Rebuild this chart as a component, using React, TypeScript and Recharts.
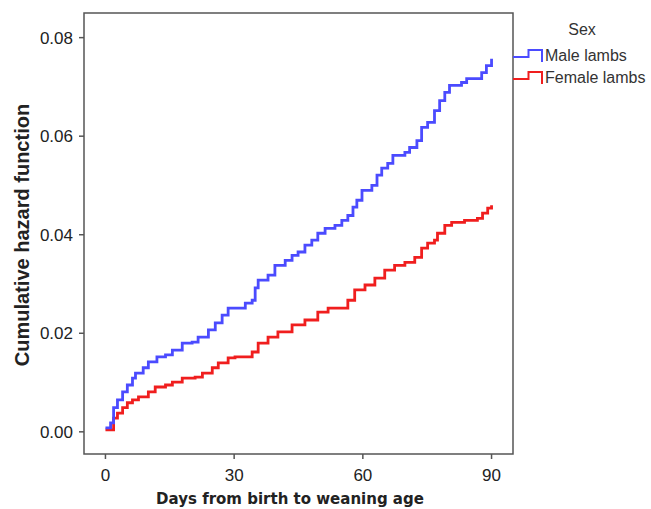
import { LineChart, Line, XAxis, YAxis, ReferenceArea } from 'recharts';

// Male lambs (blue) – cumulative hazard
const maleDays = [
    0, 1.2, 1.9, 2.8, 4.0, 5.1, 6.3, 7.0, 8.8, 10, 12, 14, 15.6, 17.9, 20.2, 21.6, 24, 25.6, 27.2, 28.6,
    32.6, 34.2, 34.9, 35.6, 37.9, 39.5, 41.9, 43.5, 44.9, 46.5, 48.1, 49.5, 51.2, 53.5, 55.1, 56.5, 57.7,
    58.6, 59.8, 62.1, 63.3, 64.4, 65.8, 67, 69.8, 70.9, 72.6, 73.7, 75.1, 76.7, 77.9, 79.1, 80.2, 83, 84.2,
    86.7, 87.7, 88.8, 90,
];
const maleHazard = [
    0.0008, 0.0018, 0.0049, 0.0065, 0.0081, 0.0095, 0.0109, 0.0119, 0.013, 0.0142, 0.0152, 0.0156, 0.0166,
    0.018, 0.0182, 0.0192, 0.0207, 0.0221, 0.0237, 0.0251, 0.0261, 0.0267, 0.0292, 0.0308, 0.0318, 0.0338,
    0.0348, 0.0358, 0.0365, 0.0379, 0.0389, 0.0403, 0.0413, 0.0419, 0.0429, 0.0439, 0.0456, 0.047, 0.049,
    0.05, 0.0521, 0.0535, 0.0545, 0.0561, 0.0567, 0.0577, 0.0591, 0.0618, 0.0628, 0.0652, 0.0672, 0.0689,
    0.0703, 0.0709, 0.0717, 0.0717, 0.0729, 0.0743, 0.0757,
];

// Female lambs (red)
const femaleDays = [
    0, 1.9, 2.8, 4.0, 5.1, 6.3, 7.7, 10, 11.6, 14, 15.6, 17.9, 20.9, 22.6, 24.9, 26.3, 28.6, 30.2, 34.2,
    35.6, 37.9, 40.2, 43.5, 46.5, 49.5, 51.9, 56.5, 58.1, 60.5, 62.8, 65.1, 67.4, 69.8, 72.1, 73.7, 75.1,
    76.7, 77.4, 79.1, 80.7, 83.7, 86.7, 87.9, 89.1, 90,
];
const femaleHazard = [
    0.0004, 0.0028, 0.0038, 0.0049, 0.0059, 0.0065, 0.0071, 0.0081, 0.0091, 0.0095, 0.0101, 0.0109, 0.0111,
    0.0119, 0.013, 0.014, 0.015, 0.0152, 0.0162, 0.018, 0.0192, 0.0203, 0.0217, 0.0227, 0.0243, 0.0251,
    0.0267, 0.0288, 0.0298, 0.0312, 0.0328, 0.0338, 0.0344, 0.0354, 0.0373, 0.0383, 0.0389, 0.0403, 0.0419,
    0.0425, 0.0429, 0.0433, 0.0444, 0.0454, 0.046,
];

const xTicks = [0, 30, 60, 90];
const yTicks = [0, 0.02, 0.04, 0.06, 0.08];

const MALE = '#4b4bff';
const FEMALE = '#f01e1e';
const FRAME = '#555';

const maleData = maleDays.map((day, i) => ({ day, value: maleHazard[i] }));
const femaleData = femaleDays.map((day, i) => ({ day, value: femaleHazard[i] }));

const tickStyle = { fontFamily: 'Liberation Sans, Arial, sans-serif', fontSize: 17, fill: '#222' };

export default function App() {
    return (
        <div style={{ position: 'absolute', left: 0, top: 0, width: 651, height: 509, background: '#fff' }}>
            <LineChart width={651} height={509} margin={{ top: 13, right: 138, bottom: 25, left: 0 }}>
                <XAxis
                    type="number"
                    dataKey="day"
                    domain={[-5, 95]}
                    ticks={xTicks}
                    allowDataOverflow
                    height={30}
                    axisLine={false}
                    tickSize={5}
                    tickMargin={10}
                    tickLine={{ stroke: FRAME, strokeWidth: 1.5 }}
                    tick={tickStyle}
                />
                <YAxis
                    type="number"
                    dataKey="value"
                    domain={[-0.0045, 0.085]}
                    ticks={yTicks}
                    allowDataOverflow
                    width={84}
                    axisLine={false}
                    tickSize={5}
                    tickMargin={6}
                    tickLine={{ stroke: FRAME, strokeWidth: 1.5 }}
                    tick={tickStyle}
                    tickFormatter={(v: number) => v.toFixed(2)}
                />
                <ReferenceArea
                    x1={-5}
                    x2={95}
                    y1={-0.0045}
                    y2={0.085}
                    fill="none"
                    fillOpacity={0}
                    stroke={FRAME}
                    strokeWidth={1.5}
                />
                <Line
                    data={femaleData}
                    dataKey="value"
                    type="stepAfter"
                    stroke={FEMALE}
                    strokeWidth={2.8}
                    dot={false}
                    isAnimationActive={false}
                />
                <Line
                    data={maleData}
                    dataKey="value"
                    type="stepAfter"
                    stroke={MALE}
                    strokeWidth={2.8}
                    dot={false}
                    isAnimationActive={false}
                />
            </LineChart>

            {/* titles + legend */}
            <svg width={651} height={509} style={{ position: 'absolute', left: 0, top: 0, pointerEvents: 'none' }}>
                <text
                    transform="translate(29, 235) rotate(-90)"
                    textAnchor="middle"
                    fontFamily="Liberation Sans, Arial, sans-serif"
                    fontWeight="bold"
                    fontSize={20}
                    fill="#222"
                >
                    Cumulative hazard function
                </text>
                <text
                    x={290}
                    y={504}
                    textAnchor="middle"
                    fontFamily="DejaVu Sans, sans-serif"
                    fontWeight="bold"
                    fontSize={15}
                    fill="#222"
                >
                    Days from birth to weaning age
                </text>

                <text x={582} y={35} textAnchor="middle" fontFamily="Liberation Sans, Arial, sans-serif" fontSize={16} fill="#333">
                    Sex
                </text>
                <path d="M513 57 H528.5 V50 H542 V62" fill="none" stroke={MALE} strokeWidth={2} />
                <text x={545} y={61} fontFamily="Liberation Sans, Arial, sans-serif" fontSize={16} fill="#333">
                    Male lambs
                </text>
                <path d="M513 79 H528.5 V72 H542 V84" fill="none" stroke={FEMALE} strokeWidth={2} />
                <text x={545} y={83} fontFamily="Liberation Sans, Arial, sans-serif" fontSize={16} fill="#333">
                    Female lambs
                </text>
            </svg>
        </div>
    );
}
